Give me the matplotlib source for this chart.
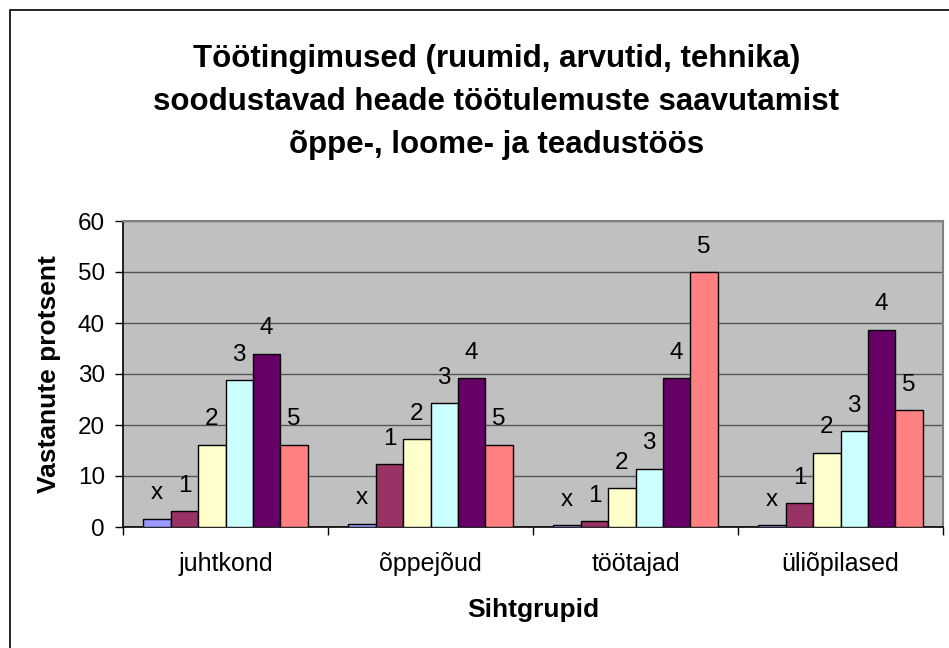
import numpy as np
import matplotlib
matplotlib.use("Agg")
import matplotlib.pyplot as plt
from matplotlib.patches import Rectangle

plt.rcParams['font.family'] = ['Liberation Sans', 'DejaVu Sans']

groups = ['juhtkond', 'õppejõud', 'töötajad', 'üliõpilased']
series = ['x', '1', '2', '3', '4', '5']
vals_x = [1.6, 0.6, 0.3, 0.4]
vals_1 = [3.1, 12.3, 1.1, 4.7]
vals_2 = [16.1, 17.2, 7.6, 14.6]
vals_3 = [28.8, 24.3, 11.4, 18.8]
vals_4 = [34.0, 29.2, 29.2, 38.7]
vals_5 = [16.1, 16.1, 50.0, 22.9]
colors = ['#9999FF', '#993366', '#FFFFCC', '#CCFFFF', '#660066', '#FF8080']

title = ("Töötingimused (ruumid, arvutid, tehnika)\n"
         "soodustavad heade töötulemuste saavutamist\n"
         "õppe-, loome- ja teadustöös")

fig = plt.figure(figsize=(9.49, 6.48), dpi=100)
ax = fig.add_axes([123/949, 1-527/648, 820/949, 306/648])
ax.set_facecolor('#C0C0C0')

data = [vals_x, vals_1, vals_2, vals_3, vals_4, vals_5]
w = 0.1335
centers = np.arange(len(groups)) + 0.5
for k, (name, v, c) in enumerate(zip(series, data, colors)):
    xs = centers + (k - 2.5) * w
    ax.bar(xs, v, width=w, color=c, edgecolor='black', linewidth=1.0, zorder=3)
    for xi, yi in zip(xs, v):
        ax.annotate(name, (xi, yi), xytext=(0, 14), textcoords='offset points',
                    ha='center', va='baseline', fontsize=17.5, zorder=4)

ax.set_xlim(0, 4)
ax.set_ylim(0, 60)
ax.set_yticks(np.arange(0, 61, 10))
ax.yaxis.grid(True, color='#555555', linewidth=1.0, zorder=1)
ax.tick_params(axis='y', labelsize=17.5, length=6, width=1, pad=7, direction='out')

ax.set_xticks(np.arange(0, 5))
ax.set_xticklabels([])
ax.set_xticks(centers, minor=True)
ax.set_xticklabels(groups, minor=True, fontsize=18)
ax.tick_params(axis='x', which='major', length=6, width=1, direction='out')
ax.tick_params(axis='x', which='minor', length=0, pad=18)

for s in ['left', 'bottom']:
    ax.spines[s].set_color('black')
    ax.spines[s].set_linewidth(1.2)
for s in ['top', 'right']:
    ax.spines[s].set_color('#808080')
    ax.spines[s].set_linewidth(1.5)

ax.set_ylabel('Vastanute protsent', fontsize=19, fontweight='bold', labelpad=12)
ax.set_xlabel('Sihtgrupid', fontsize=19, fontweight='bold', labelpad=16)

fig.text(0.523, 1-102/648, title, ha='center', va='center', fontsize=22.5,
         fontweight='bold', linespacing=1.55)

# outer chart border
fig.patches.append(Rectangle((10/949, -0.1), 1.2, (648-10)/648 + 0.1,
                             transform=fig.transFigure, fill=False,
                             edgecolor='black', linewidth=1.2))

fig.savefig('out.png', dpi=100)
